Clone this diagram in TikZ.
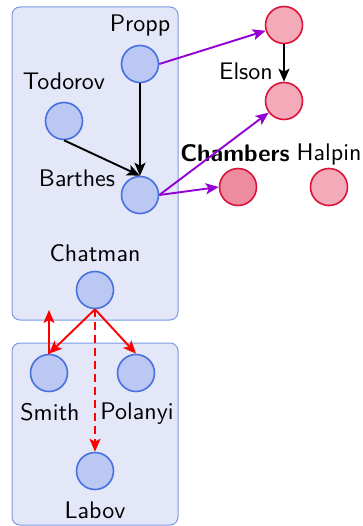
\documentclass[tikz,border=0pt]{standalone}
\usepackage{fontspec}
\setsansfont{lmsans10-regular.otf}[BoldFont=lmsans10-bold.otf]
\usetikzlibrary{arrows.meta}
\definecolor{grpfill}{HTML}{E3E7F8}
\definecolor{grpdraw}{HTML}{7B98E6}
\definecolor{bnfill}{HTML}{BAC8F3}
\definecolor{bndraw}{HTML}{4671DE}
\definecolor{rnfill}{HTML}{F3ABB9}
\definecolor{rndark}{HTML}{EC8C9C}
\definecolor{rndraw}{HTML}{DC143C}
\definecolor{violetedge}{HTML}{9400D3}
\tikzset{
  group/.style={draw=grpdraw, fill=grpfill, line width=1pt, rounded corners=8pt},
  bnode/.style={circle, draw=bndraw, fill=bnfill, line width=1.6pt, minimum size=37pt, inner sep=0pt},
  rnode/.style={circle, draw=rndraw, fill=rnfill, line width=1.6pt, minimum size=37pt, inner sep=0pt},
  lbl/.style={font=\fontsize{24}{28}\selectfont\sffamily, inner sep=0pt, anchor=base},
  edge/.style={line width=1.9pt, -{Stealth[length=13pt,width=11pt,inset=3pt]}},
  blk/.style={edge, draw=black},
  vio/.style={edge, draw=violetedge},
  rd/.style={edge, draw=red},
}
\begin{document}
\begin{tikzpicture}[x=1pt, y=-1pt]
\useasboundingbox (0,0) rectangle (363,526);
% group boxes
\draw[group] (12,7) rectangle (178,320);
\draw[group] (12,343) rectangle (178,525);
\coordinate (g1s) at (49,310);

% blue nodes
\node[bnode] (propp) at (140,64) {};
\node[bnode] (todorov) at (64,121) {};
\node[bnode] (barthes) at (140,195) {};
\node[bnode] (chatman) at (95,290) {};
\node[bnode] (smith) at (49,373) {};
\node[bnode] (polanyi) at (136,373) {};
\node[bnode] (labov) at (95,471) {};

% red nodes
\node[rnode] (top) at (284,25) {};
\node[rnode] (elson) at (284,101) {};
\node[rnode, fill=rndark] (chambers) at (238,187) {};
\node[rnode] (halpin) at (329,187) {};

% labels
\node[lbl] (lpropp) at (140,32) {Propp};
\node[lbl] (ltodorov) at (64,90) {Todorov};
\node[lbl] (lbarthes) at (77,187) {Barthes};
\node[lbl] (lchatman) at (95,261) {Chatman};
\node[lbl] (lsmith) at (50,420) {Smith};
\node[lbl] (lpolanyi) at (137,419) {Polanyi};
\node[lbl] (llabov) at (95,518) {Labov};
\node[lbl] (lelson) at (246,80) {Elson};
\node[lbl, font=\fontsize{24}{28}\selectfont\sffamily\bfseries] (lchambers) at (235,162) {Chambers};
\node[lbl] (lhalpin) at (329,161) {Halpin};

% connectors
\draw[vio] (propp.east) -- (top);
\draw[blk] (top.south) -- (elson.north);
\draw[blk] (propp.south) -- (barthes.north);
\draw[blk] (todorov.south) -- (barthes.north);
\draw[vio] (barthes.east) -- (elson);
\draw[vio] (barthes.east) -- (chambers.west);
\draw[rd] (chatman.south) -- (smith.north);
\draw[rd] (chatman.south) -- (polanyi.north);
\draw[rd, dashed, dash pattern=on 8pt off 5pt] (chatman.south) -- (labov.north);
\draw[rd] (smith.north) -- (g1s);
\end{tikzpicture}
\end{document}
